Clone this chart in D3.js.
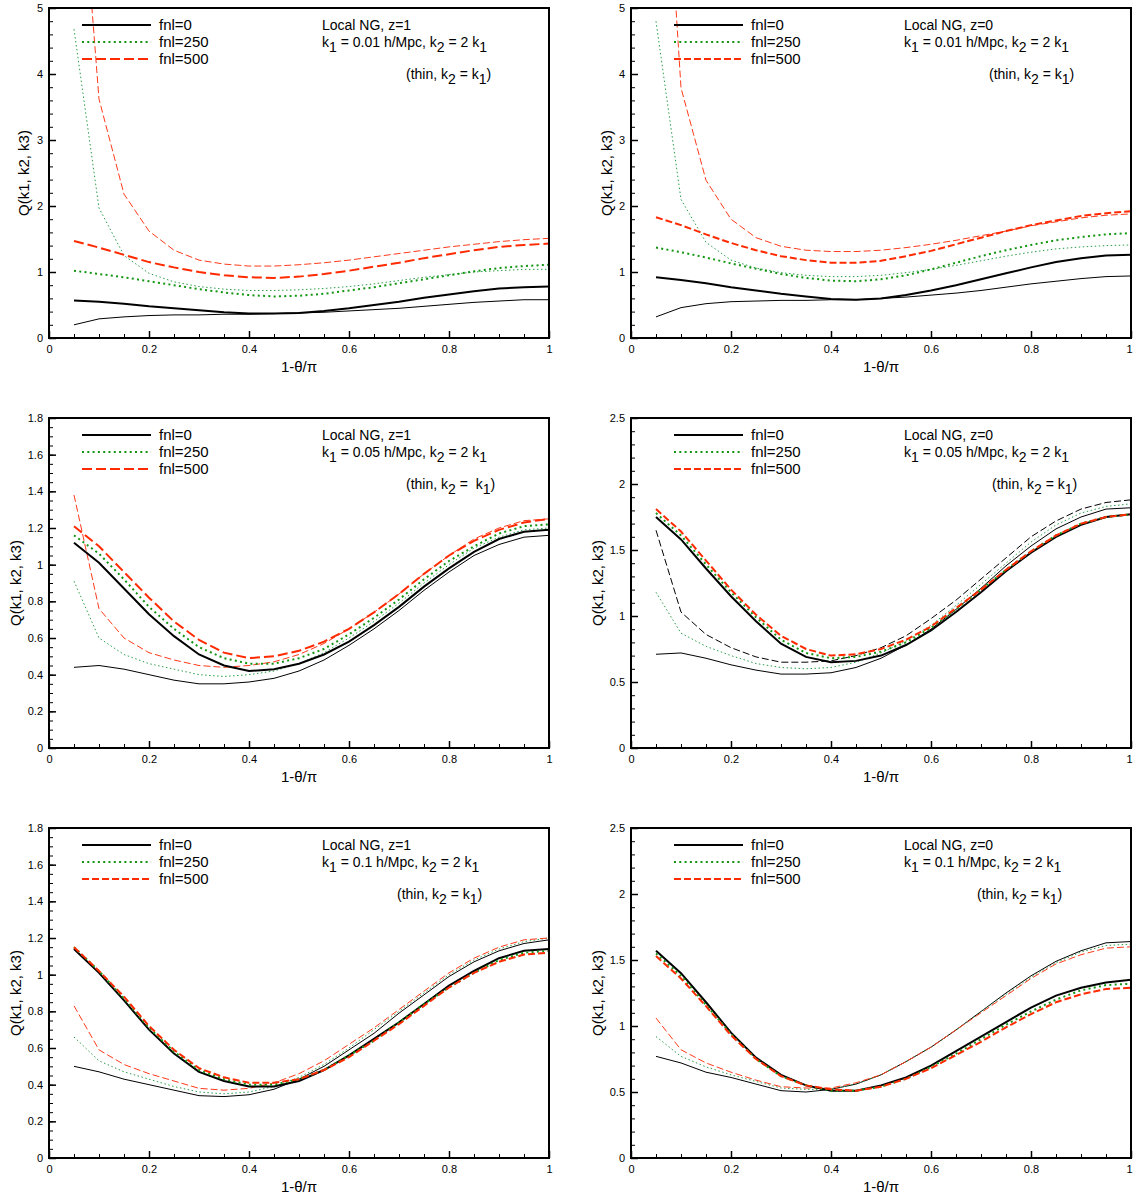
<!DOCTYPE html>
<html lang="en">
<head>
<meta charset="UTF-8">
<title>Q(k1, k2, k3) - local NG</title>
<script src="https://cdn.jsdelivr.net/npm/d3@7"></script>
<style>
html,body {margin:0;padding:0;background:#fff;}
svg {display:block;font-family:"Liberation Sans",Arial,Helvetica,sans-serif;}
.tick text {font-size:11px;fill:#000;}
.ann {font-size:14px;}
.leg {font-size:15px;}
.lab {font-size:15px;}
</style>
</head>
<body>
<div id="chart"></div>
<script>
// x = 1 - theta/pi
const xs = [0.05,0.10,0.15,0.20,0.25,0.30,0.35,0.40,0.45,0.50,0.55,0.60,0.65,0.70,0.75,0.80,0.85,0.90,0.95,1.00];
const xTicks = [0, 0.2, 0.4, 0.6, 0.8, 1];
const fnlLabels = ["fnl=0", "fnl=250", "fnl=500"];

// z=1, k1=0.01 (thick: k2=2k1, thin: k2=k1)
const a_f0       = [0.57,0.55,0.52,0.48,0.45,0.42,0.39,0.37,0.37,0.38,0.41,0.45,0.50,0.55,0.61,0.66,0.71,0.75,0.77,0.78];
const a_f0_thin  = [0.20,0.29,0.32,0.34,0.35,0.35,0.36,0.36,0.37,0.38,0.39,0.41,0.43,0.45,0.48,0.51,0.54,0.56,0.58,0.58];
const a_f250     = [1.02,0.97,0.92,0.86,0.80,0.74,0.69,0.65,0.63,0.64,0.67,0.72,0.77,0.83,0.89,0.95,1.01,1.06,1.09,1.11];
const a_f250_thin= [4.68,1.97,1.25,0.98,0.85,0.78,0.74,0.72,0.72,0.73,0.75,0.78,0.82,0.87,0.92,0.96,1.00,1.02,1.04,1.04];
const a_f500     = [1.47,1.37,1.26,1.15,1.07,1.00,0.95,0.92,0.91,0.93,0.97,1.02,1.08,1.14,1.21,1.27,1.33,1.38,1.41,1.43];
const a_f500_thin= [8.50,3.62,2.18,1.62,1.33,1.18,1.12,1.09,1.09,1.11,1.14,1.18,1.23,1.28,1.33,1.38,1.42,1.46,1.49,1.51];

// z=0, k1=0.01
const b_f0       = [0.92,0.88,0.83,0.77,0.72,0.67,0.63,0.59,0.58,0.60,0.65,0.72,0.80,0.89,0.98,1.07,1.15,1.21,1.25,1.26];
const b_f0_thin  = [0.32,0.46,0.52,0.55,0.56,0.57,0.57,0.58,0.58,0.60,0.62,0.65,0.68,0.72,0.77,0.82,0.86,0.90,0.93,0.94];
const b_f250     = [1.37,1.30,1.22,1.13,1.05,0.97,0.91,0.87,0.86,0.89,0.95,1.04,1.14,1.24,1.33,1.41,1.48,1.53,1.57,1.59];
const b_f250_thin= [4.80,2.10,1.45,1.18,1.06,0.99,0.95,0.93,0.93,0.95,0.99,1.04,1.10,1.17,1.24,1.30,1.35,1.38,1.40,1.41];
const b_f500     = [1.83,1.71,1.57,1.44,1.33,1.24,1.18,1.14,1.14,1.17,1.24,1.32,1.42,1.52,1.62,1.71,1.78,1.85,1.89,1.92];
const b_f500_thin= [9.80,3.79,2.39,1.80,1.52,1.39,1.33,1.31,1.31,1.33,1.37,1.42,1.48,1.55,1.62,1.70,1.76,1.82,1.86,1.88];

// z=1, k1=0.05
const c_f0       = [1.12,1.01,0.87,0.73,0.61,0.51,0.45,0.42,0.43,0.46,0.51,0.58,0.67,0.77,0.88,0.98,1.07,1.14,1.18,1.19];
const c_f0_thin  = [0.44,0.45,0.43,0.40,0.37,0.35,0.35,0.36,0.38,0.42,0.48,0.56,0.65,0.75,0.86,0.96,1.05,1.11,1.15,1.16];
const c_f250     = [1.16,1.06,0.92,0.77,0.65,0.55,0.49,0.46,0.46,0.49,0.54,0.62,0.71,0.81,0.92,1.02,1.10,1.17,1.21,1.22];
const c_f250_thin= [0.91,0.60,0.51,0.46,0.43,0.40,0.39,0.40,0.42,0.46,0.52,0.60,0.69,0.79,0.90,1.00,1.09,1.15,1.19,1.20];
const c_f500     = [1.21,1.10,0.96,0.82,0.69,0.59,0.52,0.49,0.50,0.53,0.58,0.65,0.74,0.84,0.95,1.05,1.13,1.19,1.23,1.25];
const c_f500_thin= [1.38,0.76,0.60,0.52,0.48,0.45,0.44,0.45,0.47,0.51,0.57,0.65,0.74,0.84,0.95,1.05,1.14,1.20,1.24,1.25];

// z=0, k1=0.05
const d_f0       = [1.75,1.58,1.36,1.15,0.96,0.79,0.69,0.65,0.66,0.70,0.78,0.89,1.03,1.18,1.34,1.48,1.60,1.69,1.75,1.77];
const d_f0_thin  = [0.71,0.72,0.68,0.63,0.59,0.56,0.56,0.57,0.61,0.68,0.78,0.90,1.05,1.21,1.38,1.53,1.66,1.75,1.81,1.82];
const d_f250     = [1.78,1.61,1.39,1.18,0.99,0.82,0.72,0.68,0.69,0.73,0.80,0.91,1.05,1.20,1.35,1.49,1.61,1.70,1.75,1.77];
const d_f250_thin= [1.18,0.87,0.77,0.70,0.64,0.61,0.60,0.61,0.65,0.72,0.81,0.93,1.08,1.24,1.40,1.56,1.69,1.78,1.83,1.85];
const d_f500     = [1.81,1.64,1.42,1.20,1.01,0.85,0.75,0.70,0.71,0.75,0.82,0.92,1.06,1.20,1.35,1.49,1.61,1.70,1.75,1.77];
const d_f500_thin= [1.65,1.03,0.86,0.76,0.69,0.65,0.65,0.66,0.70,0.76,0.85,0.98,1.12,1.28,1.44,1.60,1.72,1.81,1.86,1.88];

// z=1, k1=0.1
const e_f0       = [1.14,1.01,0.86,0.70,0.57,0.47,0.42,0.39,0.39,0.42,0.48,0.56,0.65,0.74,0.84,0.94,1.02,1.09,1.13,1.14];
const e_f0_thin  = [0.50,0.47,0.43,0.40,0.37,0.34,0.335,0.345,0.375,0.43,0.50,0.59,0.68,0.79,0.89,0.99,1.07,1.13,1.17,1.19];
const e_f250     = [1.15,1.02,0.87,0.71,0.58,0.48,0.43,0.40,0.40,0.43,0.48,0.56,0.64,0.74,0.84,0.93,1.01,1.08,1.12,1.13];
const e_f250_thin= [0.66,0.53,0.47,0.43,0.39,0.36,0.35,0.36,0.39,0.44,0.51,0.60,0.70,0.80,0.90,1.00,1.08,1.14,1.18,1.20];
const e_f500     = [1.15,1.02,0.88,0.72,0.59,0.49,0.44,0.41,0.41,0.43,0.48,0.55,0.64,0.73,0.83,0.93,1.01,1.07,1.11,1.12];
const e_f500_thin= [0.83,0.59,0.51,0.46,0.42,0.38,0.37,0.38,0.41,0.46,0.53,0.62,0.71,0.81,0.91,1.01,1.09,1.15,1.19,1.20];

// z=0, k1=0.1
const f_f0       = [1.57,1.40,1.18,0.95,0.76,0.63,0.55,0.51,0.51,0.55,0.61,0.70,0.81,0.92,1.03,1.14,1.23,1.29,1.33,1.35];
const f_f0_thin  = [0.77,0.72,0.65,0.61,0.56,0.51,0.50,0.52,0.56,0.63,0.73,0.84,0.97,1.11,1.25,1.38,1.49,1.57,1.63,1.64];
const f_f250     = [1.55,1.38,1.16,0.94,0.75,0.62,0.55,0.51,0.51,0.54,0.60,0.69,0.79,0.90,1.01,1.11,1.20,1.27,1.31,1.32];
const f_f250_thin= [0.92,0.77,0.69,0.63,0.58,0.53,0.52,0.52,0.56,0.63,0.73,0.84,0.97,1.11,1.24,1.37,1.48,1.56,1.61,1.62];
const f_f500     = [1.53,1.36,1.15,0.93,0.75,0.62,0.55,0.52,0.51,0.54,0.60,0.68,0.78,0.88,0.99,1.09,1.18,1.24,1.28,1.29];
const f_f500_thin= [1.06,0.82,0.72,0.65,0.59,0.54,0.53,0.53,0.57,0.63,0.73,0.84,0.97,1.10,1.23,1.36,1.47,1.54,1.59,1.60];

const yTicks18 = [0, 0.2, 0.4, 0.6, 0.8, 1, 1.2, 1.4, 1.6, 1.8];
const yTicks25 = [0, 0.5, 1, 1.5, 2, 2.5];
const yTicks5  = [0, 1, 2, 3, 4, 5];

const panels = [
  {left:49,  top:8,   z:"1", k:"0.01", ymax:5,   ticks:yTicks5,  minor:0.2,  thin:[a_f0_thin,a_f250_thin,a_f500_thin], thick:[a_f0,a_f250,a_f500], dash:"10,4", legX:33, thinX:357, sp:"", qx:-20},
  {left:631, top:8,   z:"0", k:"0.01", ymax:5,   ticks:yTicks5,  minor:0.2,  thin:[b_f0_thin,b_f250_thin,b_f500_thin], thick:[b_f0,b_f250,b_f500], dash:"7,3",  legX:43, thinX:358, sp:"", qx:-19},
  {left:49,  top:418, z:"1", k:"0.05", ymax:1.8, ticks:yTicks18, minor:0.05, thin:[c_f0_thin,c_f250_thin,c_f500_thin], thick:[c_f0,c_f250,c_f500], dash:"10,4", legX:33, thinX:357, sp:"\u00a0", qx:-28},
  {left:631, top:418, z:"0", k:"0.05", ymax:2.5, ticks:yTicks25, minor:0.1,  thin:[d_f0_thin,d_f250_thin,d_f500_thin], thick:[d_f0,d_f250,d_f500], dash:"7,3",  legX:43, thinX:361, sp:"", qx:-28, thinRed:"#000"},
  {left:49,  top:828, z:"1", k:"0.1",  ymax:1.8, ticks:yTicks18, minor:0.05, thin:[e_f0_thin,e_f250_thin,e_f500_thin], thick:[e_f0,e_f250,e_f500], dash:"7,3",  legX:33, thinX:348, sp:"", qx:-28},
  {left:631, top:828, z:"0", k:"0.1",  ymax:2.5, ticks:yTicks25, minor:0.1,  thin:[f_f0_thin,f_f250_thin,f_f500_thin], thick:[f_f0,f_f250,f_f500], dash:"7,3",  legX:43, thinX:346, sp:"", qx:-28}
];

const W = 500, H = 330;
const colors = ["#000", "#129612", "#ff2a00"];
const thinColors = ["#000", "#2a9e4a", "#ff3a1a"];

const svg = d3.select('#chart').append('svg')
  .attr('width', 1133)
  .attr('height', 1199);

const fmt = d3.format("~g");

panels.forEach(function (p, pi) {
  let x = d3.scaleLinear().domain([0, 1]).range([0, W]);
  let y = d3.scaleLinear().domain([0, p.ymax]).range([H, 0]);
  let g = svg.append('g').attr('transform', 'translate(' + p.left + ',' + p.top + ')');

  g.append('clipPath').attr('id', 'clip' + pi)
    .append('rect').attr('width', W).attr('height', H);

  // minor ticks
  g.append('g').attr('transform', 'translate(0,' + H + ')')
    .call(d3.axisBottom(x).tickValues(d3.range(0, 1.0001, 0.05)).tickSize(-4).tickSizeOuter(0).tickFormat(''))
    .call(s => s.select('.domain').remove());
  g.append('g')
    .call(d3.axisLeft(y).tickValues(d3.range(0, p.ymax + 1e-6, p.minor)).tickSize(-4).tickSizeOuter(0).tickFormat(''))
    .call(s => s.select('.domain').remove());

  // major ticks
  let gx = g.append('g').attr('transform', 'translate(0,' + H + ')')
    .call(d3.axisBottom(x).tickValues(xTicks).tickSize(-7).tickSizeOuter(0).tickPadding(7).tickFormat(fmt))
    .call(s => s.select('.domain').remove())
    .call(s => s.selectAll('.tick line').attr('stroke-width', 1.5));
  // keep the last label inside the window on the right-hand column
  if (p.left > 600) {
    gx.selectAll('.tick').filter(d => d === 1).select('text').attr('x', -2);
  }
  g.append('g')
    .call(d3.axisLeft(y).tickValues(p.ticks).tickSize(-7).tickSizeOuter(0).tickPadding(6).tickFormat(fmt))
    .call(s => s.select('.domain').remove())
    .call(s => s.selectAll('.tick line').attr('stroke-width', 1.5));

  let line = d3.line().x((d, i) => x(xs[i])).y(d => y(d));
  let plot = g.append('g').attr('clip-path', 'url(#clip' + pi + ')');

  // thin curves: k2 = k1
  p.thin.forEach(function (vals, i) {
    plot.append('path').datum(vals)
      .attr('d', line)
      .attr('fill', 'none')
      .attr('stroke', i === 2 && p.thinRed ? p.thinRed : thinColors[i])
      .attr('stroke-width', 1)
      .attr('stroke-dasharray', i === 0 ? null : (i === 1 ? '1.5,2.5' : '7,3'));
  });
  // thick curves: k2 = 2 k1
  p.thick.forEach(function (vals, i) {
    plot.append('path').datum(vals)
      .attr('d', line)
      .attr('fill', 'none')
      .attr('stroke', colors[i])
      .attr('stroke-width', 2)
      .attr('stroke-dasharray', i === 0 ? null : (i === 1 ? '2,3.3' : p.dash));
  });

  // frame
  g.append('rect').attr('width', W).attr('height', H)
    .attr('fill', 'none').attr('stroke', '#000').attr('stroke-width', 2);

  // legend
  let leg = g.append('g');
  fnlLabels.forEach(function (t, i) {
    let ly = 17 + i * 17;
    leg.append('line')
      .attr('x1', p.legX).attr('x2', p.legX + 69)
      .attr('y1', ly).attr('y2', ly)
      .attr('stroke', colors[i]).attr('stroke-width', 2)
      .attr('stroke-dasharray', i === 0 ? null : (i === 1 ? '2,3.3' : p.dash));
    leg.append('text').attr('class', 'leg')
      .attr('x', p.legX + 77).attr('y', ly + 5)
      .text(t);
  });

  // annotation
  let ann = g.append('g').attr('class', 'ann');
  ann.append('text').attr('x', 273).attr('y', 22).text('Local NG, z=' + p.z);
  let t2 = ann.append('text').attr('x', 273).attr('y', 39);
  t2.append('tspan').text('k');
  t2.append('tspan').attr('dy', 5).text('1');
  t2.append('tspan').attr('dy', -5).text(' = ' + p.k + ' h/Mpc, k');
  t2.append('tspan').attr('dy', 5).text('2');
  t2.append('tspan').attr('dy', -5).text(' = 2 k');
  t2.append('tspan').attr('dy', 5).text('1');
  let t3 = ann.append('text').attr('x', p.thinX).attr('y', 71);
  t3.append('tspan').text('(thin, k');
  t3.append('tspan').attr('dy', 5).text('2');
  t3.append('tspan').attr('dy', -5).text(' = ' + p.sp + 'k');
  t3.append('tspan').attr('dy', 5).text('1');
  t3.append('tspan').attr('dy', -5).text(')');

  // axis titles
  g.append('text').attr('class', 'lab')
    .attr('text-anchor', 'middle')
    .attr('x', W / 2).attr('y', H + 34)
    .text('1-\u03b8/\u03c0');
  g.append('text').attr('class', 'lab')
    .attr('text-anchor', 'middle')
    .attr('transform', 'translate(' + p.qx + ',' + (H / 2) + ') rotate(-90)')
    .text('Q(k1, k2, k3)');
});
</script>
</body>
</html>
